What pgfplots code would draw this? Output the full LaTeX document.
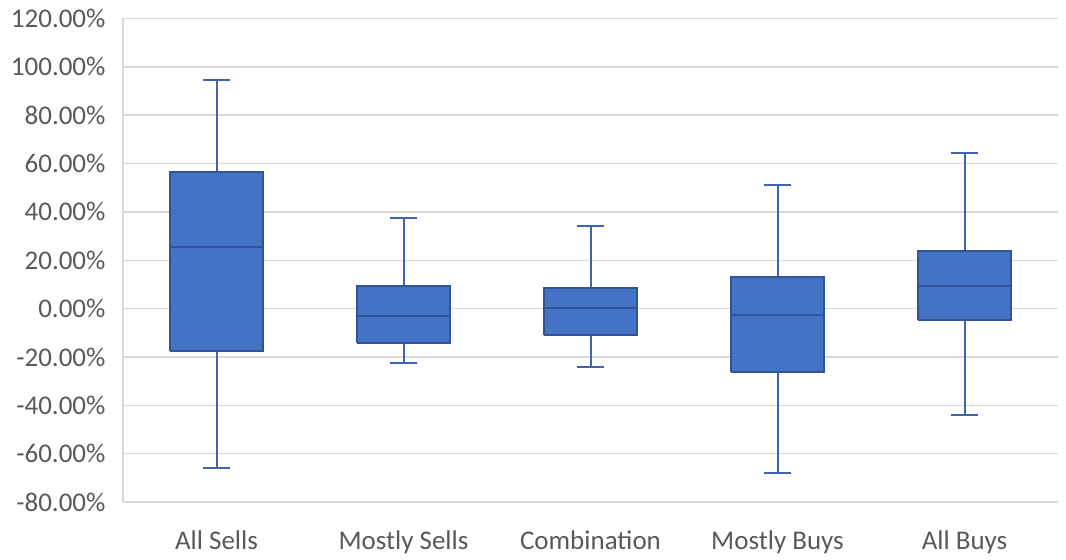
\documentclass[border=0pt]{standalone}
\usepackage{fontspec}
\setmainfont{Carlito}
\usepackage{pgfplots}
\pgfplotsset{compat=1.18}
\definecolor{boxfill}{HTML}{4472C4}
\definecolor{boxedge}{HTML}{2F5597}
\definecolor{whisk}{HTML}{3F65AE}
\definecolor{gridc}{HTML}{D9D9D9}
\definecolor{lbl}{HTML}{595959}
\begin{document}
\begin{tikzpicture}
\begin{axis}[
  name=ax,
  width=935bp, height=483.5bp, scale only axis,
  xmin=0.5, xmax=5.5, ymin=-80, ymax=120,
  ytick={-80,-60,...,120},
  xtick={1,2,3,4,5},
  xticklabels={All Sells, Mostly Sells, Combination, Mostly Buys, All Buys},
  ymajorgrids,
  major grid style={gridc, line width=1.5bp},
  axis x line*=bottom, axis y line*=left,
  axis line style={gridc, line width=1.5bp, -},
  tick style={draw=none},
  tick label style={font=\fontsize{27bp}{32bp}\selectfont, color=lbl},
  /pgf/number format/assume math mode=true,
  yticklabel={\pgfmathprintnumber[fixed,fixed zerofill,precision=2]{\tick}\%},
  yticklabel style={xshift=-14bp},
  xticklabel style={yshift=-25bp},
  unbounded coords=jump,
]
% whiskers: full span lower whisker -> upper whisker, plus caps
\addplot[whisk, line width=2bp, mark=none] coordinates {
  (1,-66.1) (1,94.5) (1,nan) (0.9275,94.5) (1.0725,94.5) (1,nan) (0.9275,-66.1) (1.0725,-66.1) (1,nan)
  (2,-22.5) (2,37.6) (2,nan) (1.9275,37.6) (2.0725,37.6) (2,nan) (1.9275,-22.5) (2.0725,-22.5) (2,nan)
  (3,-24.2) (3,34.3) (3,nan) (2.9275,34.3) (3.0725,34.3) (3,nan) (2.9275,-24.2) (3.0725,-24.2) (3,nan)
  (4,-67.8) (4,51.0) (4,nan) (3.9275,51.0) (4.0725,51.0) (4,nan) (3.9275,-67.8) (4.0725,-67.8) (4,nan)
  (5,-44.0) (5,64.3) (5,nan) (4.9275,64.3) (5.0725,64.3) (5,nan) (4.9275,-44.0) (5.0725,-44.0)
};
% boxes: lower quartile -> upper quartile
\addplot[fill=boxfill, draw=boxedge, line width=2bp, line join=miter, mark=none] coordinates {(0.75,-17.7) (1.25,-17.7) (1.25,56.3) (0.75,56.3) (0.75,-17.7)};
\addplot[fill=boxfill, draw=boxedge, line width=2bp, line join=miter, mark=none] coordinates {(1.75,-14.2) (2.25,-14.2) (2.25,9.5) (1.75,9.5) (1.75,-14.2)};
\addplot[fill=boxfill, draw=boxedge, line width=2bp, line join=miter, mark=none] coordinates {(2.75,-10.9) (3.25,-10.9) (3.25,8.4) (2.75,8.4) (2.75,-10.9)};
\addplot[fill=boxfill, draw=boxedge, line width=2bp, line join=miter, mark=none] coordinates {(3.75,-26.3) (4.25,-26.3) (4.25,12.9) (3.75,12.9) (3.75,-26.3)};
\addplot[fill=boxfill, draw=boxedge, line width=2bp, line join=miter, mark=none] coordinates {(4.75,-4.8) (5.25,-4.8) (5.25,23.9) (4.75,23.9) (4.75,-4.8)};
% medians
\addplot[boxedge, line width=2bp, mark=none] coordinates {
  (0.75,25.6) (1.25,25.6) (1,nan)
  (1.75,-2.9) (2.25,-2.9) (2,nan)
  (2.75,0.4) (3.25,0.4) (3,nan)
  (3.75,-2.5) (4.25,-2.5) (4,nan)
  (4.75,9.5) (5.25,9.5)
};
\end{axis}
\pgfresetboundingbox
\path[use as bounding box] ([shift={(-123bp,-57bp)}]ax.south west) rectangle ([shift={(8bp,18.5bp)}]ax.north east);
\end{tikzpicture}
\end{document}
